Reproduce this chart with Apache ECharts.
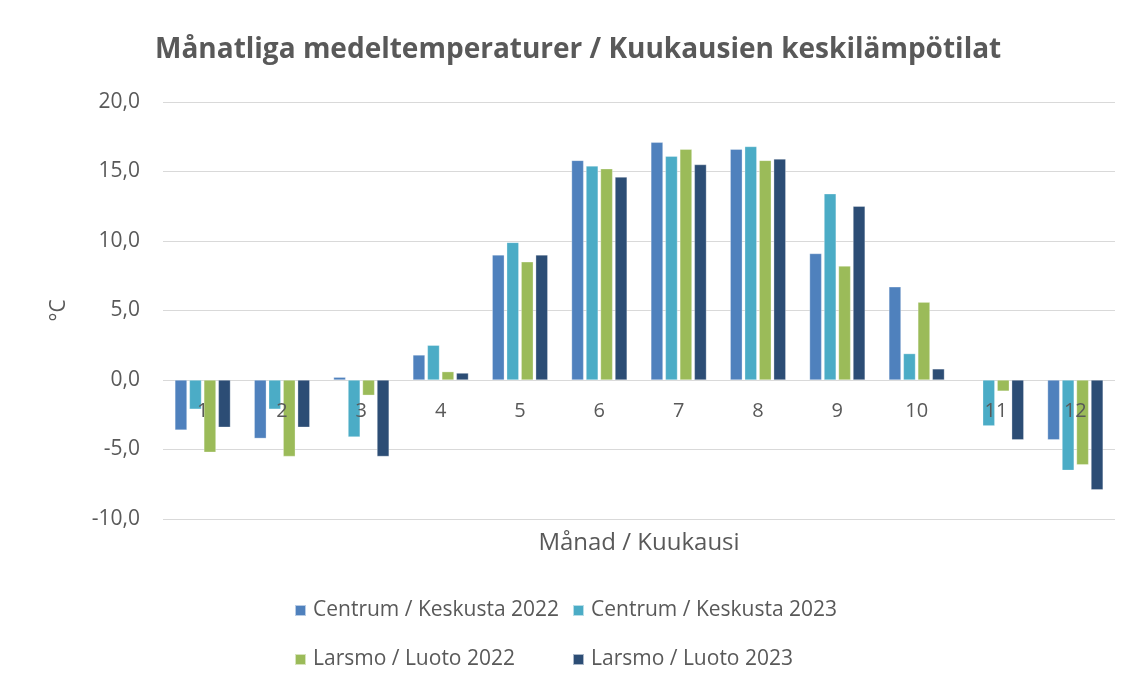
<!DOCTYPE html>
<html>
<head>
<meta charset="utf-8">
<script src="https://cdn.jsdelivr.net/npm/echarts@6/dist/echarts.min.js"></script>
<style>
  html, body { margin: 0; padding: 0; background: #fff; }
  #chart { width: 1135px; height: 686px; }
</style>
</head>
<body>
<div id="chart"></div>
<script>
const months = ['1', '2', '3', '4', '5', '6', '7', '8', '9', '10', '11', '12']
const centrum2022 = [-3.6, -4.2, 0.2, 1.8, 9.0, 15.8, 17.1, 16.6, 9.1, 6.7, null, -4.3]
const centrum2023 = [-2.1, -2.1, -4.1, 2.5, 9.9, 15.4, 16.1, 16.8, 13.4, 1.9, -3.3, -6.5]
const larsmo2022 = [-5.2, -5.5, -1.1, 0.6, 8.5, 15.2, 16.6, 15.8, 8.2, 5.6, -0.8, -6.1]
const larsmo2023 = [-3.4, -3.4, -5.5, 0.5, 9.0, 14.6, 15.5, 15.9, 12.5, 0.8, -4.3, -7.9]
const seriesNames = [
    'Centrum / Keskusta 2022',
    'Centrum / Keskusta 2023',
    'Larsmo / Luoto 2022',
    'Larsmo / Luoto 2023'
]
const colors = ['#4f81bd', '#4bacc6', '#9bbb59', '#2c4d75']

const textColor = '#595959'
const font = "'Open Sans', 'Noto Sans', sans-serif"

const chart = echarts.init(document.getElementById('chart'))

// legend placed as a 2x2 grid like the original
const legendPos = [
    { left: 289, top: 595 },
    { left: 567, top: 595 },
    { left: 289, top: 644 },
    { left: 567, top: 644 }
]
const legends = seriesNames.map((name, i) => ({
    data: [name],
    left: legendPos[i].left,
    top: legendPos[i].top,
    icon: 'rect',
    itemWidth: 11,
    itemHeight: 11,
    itemGap: 0,
    textStyle: { color: textColor, fontSize: 21, fontFamily: font, padding: [0, 0, 0, 2] }
}))

const bar = (name, data, color) => ({
    name,
    type: 'bar',
    data,
    barGap: '20%',
    barCategoryGap: '30%',
    itemStyle: { color, borderColor: 'rgba(255,255,255,0.6)', borderWidth: 0.5 },
    emphasis: { disabled: true }
})

const option = {
    animation: false,
    color: colors,
    title: {
        text: 'Månatliga medeltemperaturer / Kuukausien keskilämpötilat',
        left: 150,
        top: 31,
        textStyle: { color: textColor, fontSize: 28, fontWeight: 'bold', fontFamily: font }
    },
    legend: legends,
    grid: { left: 163, right: 20, top: 102, bottom: 167, outerBoundsMode: 'none' },
    xAxis: {
        type: 'category',
        data: months,
        z: 5,
        name: 'Månad / Kuukausi',
        nameLocation: 'middle',
        nameGap: 12,
        nameTextStyle: { color: textColor, fontSize: 24, fontFamily: font },
        axisLine: { show: false, onZero: false },
        axisTick: { show: false },
        // month labels sit just under the zero line, on top of the bars, as in the original
        axisLabel: { color: textColor, fontSize: 20, fontFamily: font, margin: -118 }
    },
    yAxis: {
        type: 'value',
        min: -10,
        max: 20,
        interval: 5,
        name: '°C',
        nameLocation: 'middle',
        nameGap: 93,
        nameRotate: 90,
        nameTextStyle: { color: textColor, fontSize: 21, fontFamily: font },
        axisLine: { show: false },
        axisTick: { show: false },
        axisLabel: {
            color: textColor,
            fontSize: 21,
            fontFamily: font,
            margin: 23,
            formatter: v => v.toFixed(1).replace('.', ',')
        },
        splitLine: { lineStyle: { color: '#d9d9d9', width: 1 } }
    },
    series: [
        bar(seriesNames[0], centrum2022, colors[0]),
        bar(seriesNames[1], centrum2023, colors[1]),
        bar(seriesNames[2], larsmo2022, colors[2]),
        bar(seriesNames[3], larsmo2023, colors[3])
    ]
}

chart.setOption(option)
</script>
</body>
</html>
